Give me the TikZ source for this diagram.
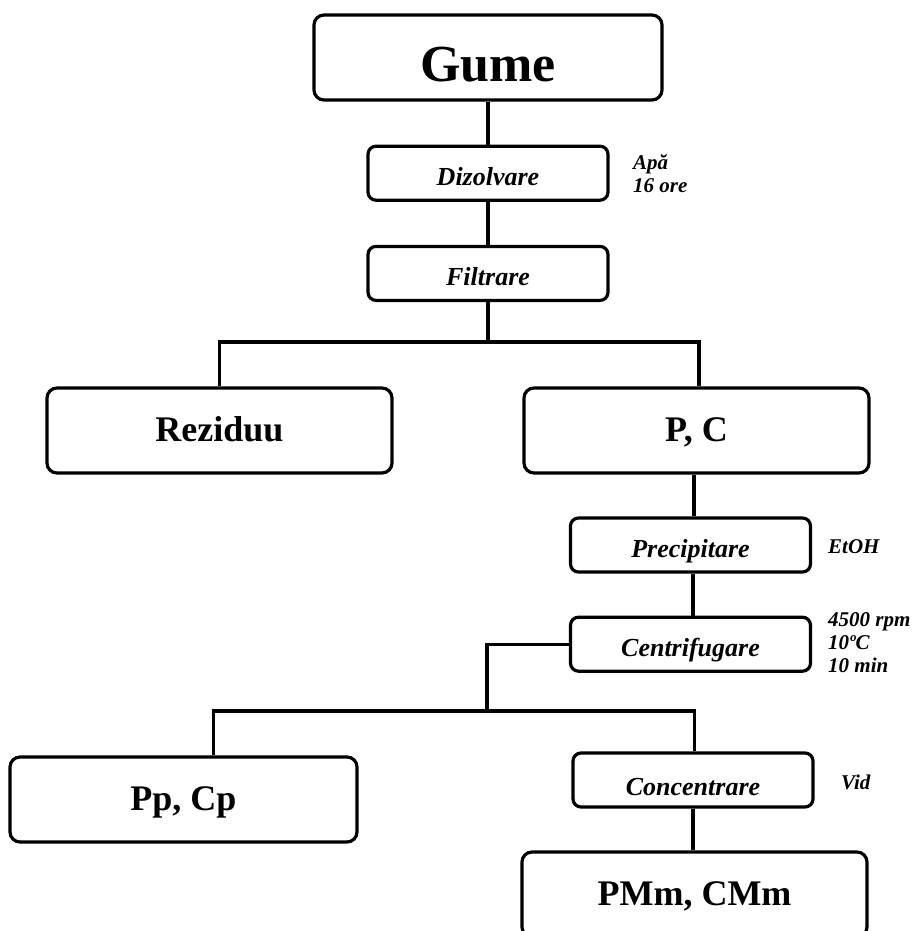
\documentclass[tikz,border=0pt]{standalone}
\usepackage{fontspec}
\setmainfont{Liberation Serif}
\usepackage{tikz}
\usetikzlibrary{positioning}

\begin{document}
\begin{tikzpicture}[
  x=1pt, y=-1pt,
  big/.style={rectangle, draw=black, line width=3.2pt, minimum width=345pt, minimum height=85pt, inner sep=0pt, align=center, rounded corners=10pt, text height=21pt, text depth=0pt, font=\fontsize{36}{40}\selectfont\bfseries},
  op/.style={rectangle, draw=black, line width=3.2pt, minimum width=240pt, minimum height=54pt, inner sep=0pt, align=center, rounded corners=8pt, text height=24pt, text depth=0pt, font=\fontsize{26}{30}\selectfont\bfseries\itshape},
  lab/.style={anchor=west, align=left, inner sep=0pt, font=\fontsize{21}{23}\selectfont\bfseries\itshape},
  line/.style={line width=3.2pt}
]
\useasboundingbox (0,0) rectangle (913,931);
\clip (0,0) rectangle (913,931);

% top chain
\node[big, minimum width=348pt, text height=49pt, font=\fontsize{52}{56}\selectfont\bfseries] (gume) at (488,57.5) {Gume};
\node[op, below=43pt of gume] (dizolvare) {Dizolvare};
\node[op, below=43pt of dizolvare] (filtrare) {Filtrare};
\node[lab] (apa) at (633,174) {Apă\\16 ore};

% first split
\node[big] (reziduu) at (219.5,430.5) {Reziduu};
\node[big] (pc) at (696.5,430.5) {P, C};
\coordinate (split1) at (488,342);

% right branch
\node[op] (precipitare) at (690.5,545) {Precipitare};
\node[op, below=42pt of precipitare] (centrifugare) {Centrifugare};
\node[lab] (etoh) at (828,547) {EtOH};
\node[lab] (cond) at (828,643) {4500 rpm\\10ºC\\10 min};

% second split
\coordinate (split2) at (487,711);
\node[big, minimum width=347pt] (ppcp) at (183.5,799.5) {Pp, Cp};
\node[op, text height=30pt] (concentrare) at (693,780) {Concentrare};
\node[lab] (vid) at (841,782) {Vid};
\node[big] (pmcm) at (694.5,894.5) {PMm, CMm};

% Lines
\draw[line] (gume) -- (dizolvare);
\draw[line] (dizolvare) -- (filtrare);
\draw[line] (filtrare.south) -- (split1);
\draw[line] (split1) -| (reziduu.north);
\draw[line] (split1) -| ([xshift=2.5pt]pc.north);
\draw[line] ([xshift=-2.5pt]pc.south) -- ([xshift=-2.5pt]pc.south |- precipitare.north);
\draw[line] ([xshift=2.5pt]precipitare.south) -- ([xshift=2.5pt]precipitare.south |- centrifugare.north);
\draw[line] (centrifugare.west) -| (split2);
\draw[line] (split2) -| ([xshift=30pt]ppcp.north);
\draw[line] (split2) -| ([xshift=4pt]centrifugare.south |- concentrare.north);
\draw[line] (concentrare) -- (concentrare |- pmcm.north);

\end{tikzpicture}
\end{document}
